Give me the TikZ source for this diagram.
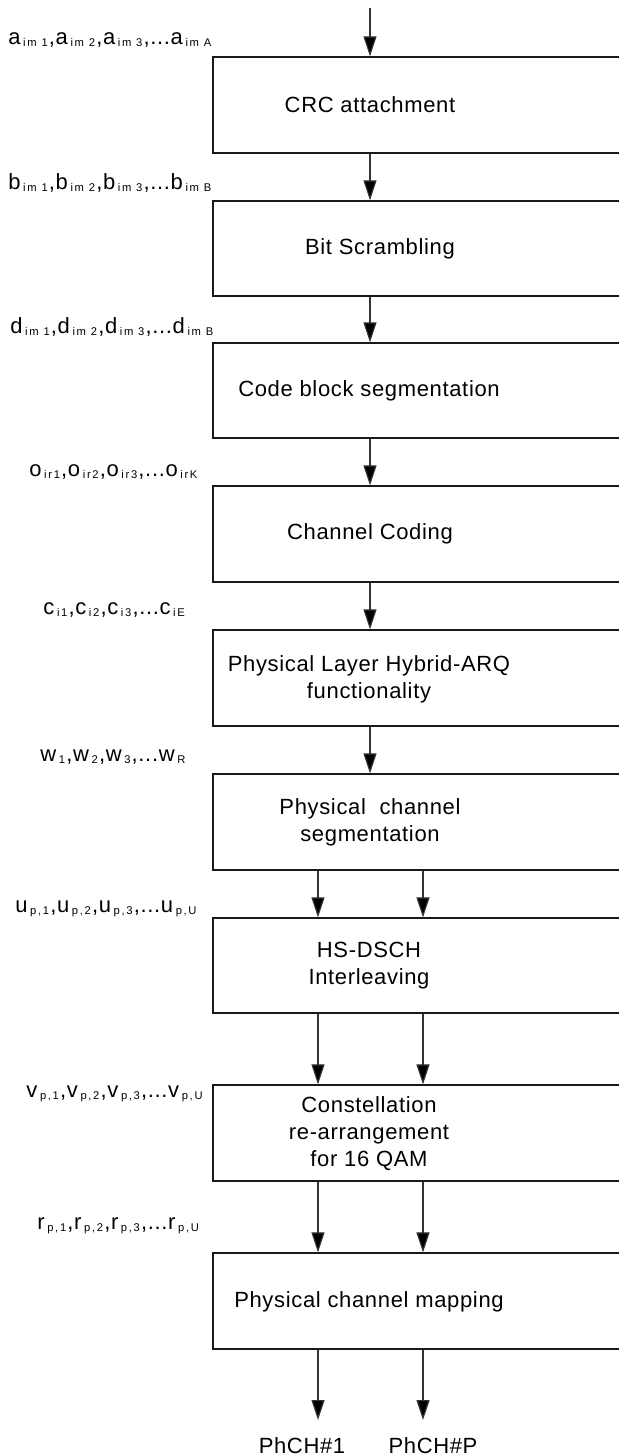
\documentclass[tikz,border=0pt]{standalone}
\usepackage{fontspec}
\setmainfont[LetterSpace=3]{Liberation Sans}
\newfontfamily\subfont[LetterSpace=15]{Liberation Sans}
\usetikzlibrary{arrows.meta,fit}
% small lowered index used in the bit-sequence labels
\newcommand\lsub[1]{\kern1.3pt\raisebox{-1.2pt}{\subfont\fontsize{5.6}{6}\selectfont #1}\kern0.6pt}
\begin{document}
\begin{tikzpicture}[x=0.5pt,y=-0.5pt,
  box/.style={draw=black!90, line width=0.65pt, inner sep=0pt, fit={#1}},
  txt/.style={font=\fontsize{11}{13.5}\selectfont, align=center, inner sep=0pt},
  seq/.style={font=\fontsize{11}{13}\selectfont, inner sep=0pt, anchor=base west},
  arr/.style={draw=black!80, line width=0.6pt, -{Triangle[length=10pt,width=6.5pt,fill=black]}},
  outl/.style={font=\fontsize{11}{13}\selectfont, inner sep=0pt, anchor=base}]
\useasboundingbox (0,0) rectangle (618,1456);

% vertical axes for the single and the paired data flows
\coordinate (axis) at (370,0);
\coordinate (cL) at (318,0);
\coordinate (cR) at (423,0);
\coordinate (start) at (370,8);
\coordinate (eL) at (318,1420);
\coordinate (eR) at (423,1420);

% processing blocks (their right side runs past the page edge)
\node[box={(213,57)(650,153)}] (b1) {};
\node[box={(213,201)(650,296)}] (b2) {};
\node[box={(213,343)(650,438)}] (b3) {};
\node[box={(213,486)(650,582)}] (b4) {};
\node[box={(213,630)(650,726)}] (b5) {};
\node[box={(213,774)(650,870)}] (b6) {};
\node[box={(213,918)(650,1013)}] (b7) {};
\node[box={(213,1085)(650,1181)}] (b8) {};
\node[box={(213,1253)(650,1349)}] (b9) {};

% block titles
\node[txt] (t1) at (370,105) {CRC attachment};
\node[txt] (t2) at (380,249) {Bit Scrambling};
\node[txt] (t3) at (369,391) {Code block segmentation};
\node[txt] (t4) at (370,534) {Channel Coding};
\node[txt] (t5) at (369,679) {Physical Layer Hybrid-ARQ\\functionality};
\node[txt] (t6) at (370,822) {Physical \ channel\\segmentation};
\node[txt] (t7) at (369,966) {HS-DSCH\\Interleaving};
\node[txt] (t8) at (369,1134) {Constellation\\re-arrangement\\for 16 QAM};
\node[txt] (t9) at (369,1302) {Physical channel mapping};

% single flow
\draw[arr] (start) -- (b1.north -| axis);
\draw[arr] (b1.south -| axis) -- (b2.north -| axis);
\draw[arr] (b2.south -| axis) -- (b3.north -| axis);
\draw[arr] (b3.south -| axis) -- (b4.north -| axis);
\draw[arr] (b4.south -| axis) -- (b5.north -| axis);
\draw[arr] (b5.south -| axis) -- (b6.north -| axis);

% paired flows
\foreach \c in {cL,cR} {
  \draw[arr] (b6.south -| \c) -- (b7.north -| \c);
  \draw[arr] (b7.south -| \c) -- (b8.north -| \c);
  \draw[arr] (b8.south -| \c) -- (b9.north -| \c);
}
\draw[arr] (b9.south -| cL) -- (eL);
\draw[arr] (b9.south -| cR) -- (eR);

% bit-sequence labels
\node[seq] (la) at (8,44) {a\lsub{im 1},a\lsub{im 2},a\lsub{im 3},...a\lsub{im A}};
\node[seq] (lb) at (8,189) {b\lsub{im 1},b\lsub{im 2},b\lsub{im 3},...b\lsub{im B}};
\node[seq] (ld) at (10,333) {d\lsub{im 1},d\lsub{im 2},d\lsub{im 3},...d\lsub{im B}};
\node[seq] (lo) at (29,476) {o\lsub{ir1},o\lsub{ir2},o\lsub{ir3},...o\lsub{irK}};
\node[seq] (lc) at (43,614) {c\lsub{i1},c\lsub{i2},c\lsub{i3},...c\lsub{iE}};
\node[seq] (lw) at (40,761) {w\lsub{1},w\lsub{2},w\lsub{3},...w\lsub{R}};
\node[seq] (lu) at (15,912) {u\lsub{p,1},u\lsub{p,2},u\lsub{p,3},...u\lsub{p,U}};
\node[seq] (lv) at (26,1097) {v\lsub{p,1},v\lsub{p,2},v\lsub{p,3},...v\lsub{p,U}};
\node[seq] (lr) at (37,1229) {r\lsub{p,1},r\lsub{p,2},r\lsub{p,3},...r\lsub{p,U}};

% physical channel outputs
\node[outl] (p1) at (302,1453) {PhCH\#1};
\node[outl] (pP) at (433,1453) {PhCH\#P};
\end{tikzpicture}
\end{document}
